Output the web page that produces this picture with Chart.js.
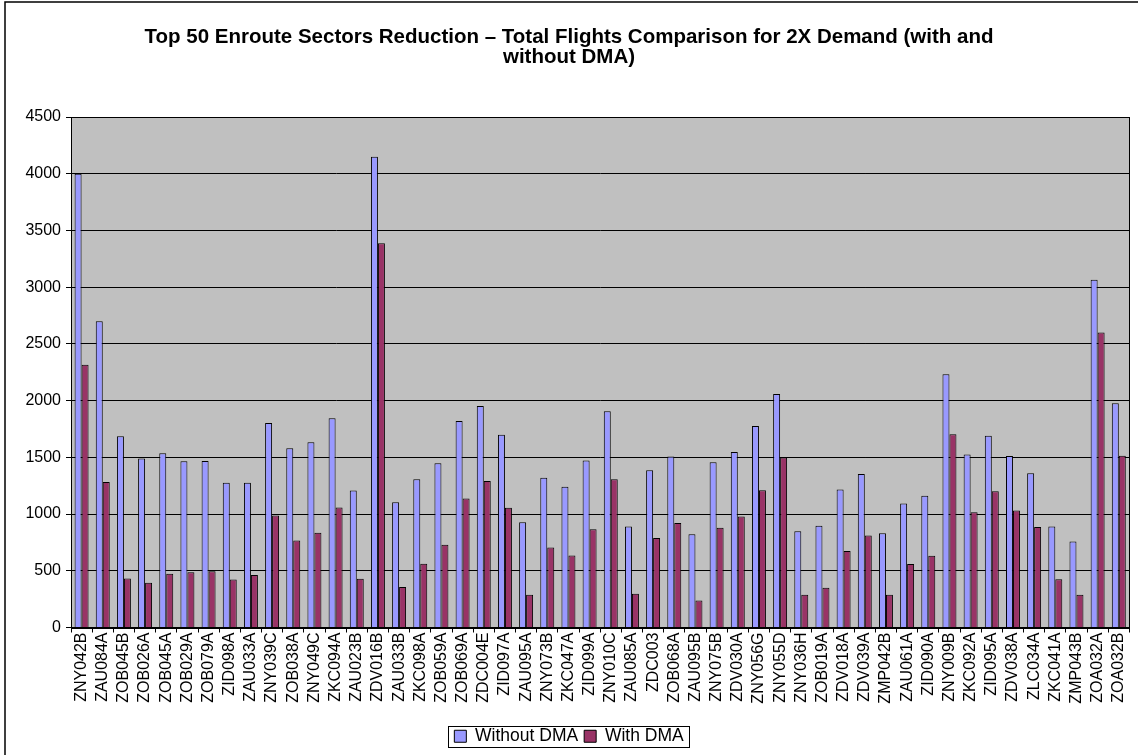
<!DOCTYPE html>
<html>
<head>
<meta charset="utf-8">
<script src="https://cdn.jsdelivr.net/npm/chart.js@4.4.0/dist/chart.umd.min.js"></script>
<style>
  body { margin: 0; background: #fff; }
  #wrap { width: 1138px; height: 755px; position: relative; }
</style>
</head>
<body>
<div id="wrap"><canvas id="chart"></canvas></div>
<script>
const sectors = [
    "ZNY042B", "ZAU084A", "ZOB045B", "ZOB026A", "ZOB045A", "ZOB029A", "ZOB079A", "ZID098A", "ZAU033A", "ZNY039C",
    "ZOB038A", "ZNY049C", "ZKC094A", "ZAU023B", "ZDV016B", "ZAU033B", "ZKC098A", "ZOB059A", "ZOB069A", "ZDC004E",
    "ZID097A", "ZAU095A", "ZNY073B", "ZKC047A", "ZID099A", "ZNY010C", "ZAU085A", "ZDC003", "ZOB068A", "ZAU095B",
    "ZNY075B", "ZDV030A", "ZNY056G", "ZNY055D", "ZNY036H", "ZOB019A", "ZDV018A", "ZDV039A", "ZMP042B", "ZAU061A",
    "ZID090A", "ZNY009B", "ZKC092A", "ZID095A", "ZDV038A", "ZLC034A", "ZKC041A", "ZMP043B", "ZOA032A", "ZOA032B"
];

const withoutDMA = [
    4000, 2700, 1685, 1490, 1535, 1465, 1468, 1277, 1277, 1803,
    1581, 1633, 1845, 1207, 4150, 1104, 1307, 1447, 1821, 1952,
    1700, 927, 1320, 1240, 1471, 1906, 891, 1386, 1508, 821,
    1456, 1548, 1776, 2058, 848, 897, 1216, 1353, 830, 1094,
    1161, 2232, 1526, 1690, 1511, 1359, 891, 757, 3065, 1976
];

const withDMA = [
    2317, 1283, 432, 395, 474, 486, 496, 423, 462, 988,
    766, 836, 1058, 429, 3387, 356, 562, 730, 1137, 1292,
    1055, 289, 705, 635, 866, 1307, 298, 790, 921, 237,
    879, 979, 1210, 1499, 289, 350, 675, 812, 289, 559,
    632, 1703, 1016, 1201, 1031, 885, 426, 289, 2600, 1514
];

const yTicks = { min: 0, max: 4500, step: 500 };

const titleLines = [
    "Top 50 Enroute Sectors Reduction \u2013 Total Flights Comparison for 2X Demand (with and",
    "without DMA)"
];

const font = "'Liberation Sans', Arial, sans-serif";

// grey plot area, plot frame, outer chart frame and legend box
const excelLook = {
    id: "excelLook",
    beforeDraw(chart) {
        const ctx = chart.ctx;
        const a = chart.chartArea;
        ctx.save();
        ctx.fillStyle = "#fff";
        ctx.fillRect(0, 0, chart.width, chart.height);
        ctx.fillStyle = "#C0C0C0";
        ctx.fillRect(a.left, a.top, a.right - a.left, a.bottom - a.top);
        ctx.restore();
    },
    afterDraw(chart) {
        const ctx = chart.ctx;
        const a = chart.chartArea;
        ctx.save();
        ctx.strokeStyle = "#000";
        ctx.lineWidth = 1;
        ctx.strokeRect(Math.round(a.left) + 0.5, Math.round(a.top) + 0.5, Math.round(a.right - a.left), Math.round(a.bottom - a.top));
        ctx.lineWidth = 1.5;
        ctx.strokeRect(5, 2, chart.width + 10, chart.height + 10);

        const boxes = chart.legend.legendHitBoxes;
        if (boxes && boxes.length) {
            let l = Infinity, r = -Infinity, t = Infinity, b = -Infinity;
            boxes.forEach(h => {
                l = Math.min(l, h.left); r = Math.max(r, h.left + h.width);
                t = Math.min(t, h.top); b = Math.max(b, h.top + h.height);
            });
            ctx.lineWidth = 1;
            ctx.strokeRect(Math.round(l) - 5.5, Math.round(t) - 1.5, Math.round(r - l) + 12, Math.round(b - t) + 3);
        }
        ctx.restore();
    }
};

const chart = new Chart(document.getElementById("chart"), {
    type: "bar",
    data: {
        labels: sectors,
        datasets: [
            {
                label: "Without DMA",
                data: withoutDMA,
                backgroundColor: "#9999FF",
                borderColor: "#000",
                borderWidth: 1,
                categoryPercentage: 0.66,
                barPercentage: 1.0
            },
            {
                label: "With DMA",
                data: withDMA,
                backgroundColor: "#993366",
                borderColor: "#000",
                borderWidth: 1,
                categoryPercentage: 0.66,
                barPercentage: 1.0
            }
        ]
    },
    options: {
        responsive: true,
        maintainAspectRatio: false,
        animation: false,
        layout: { padding: { left: 0, right: 0, top: 0, bottom: 0 } },
        plugins: {
            title: {
                display: true,
                text: titleLines,
                color: "#000",
                font: { family: font, size: 20.5, weight: "bold", lineHeight: 1.0 },
                padding: { top: 27, bottom: 49 }
            },
            legend: {
                position: "bottom",
                labels: {
                    color: "#000",
                    font: { family: font, size: 17.5 },
                    boxWidth: 12,
                    boxHeight: 12,
                    padding: 6,
                    useBorderRadius: false
                }
            },
            tooltip: { enabled: false }
        },
        scales: {
            x: {
                grid: {
                    offset: true,
                    drawOnChartArea: false,
                    drawTicks: true,
                    tickLength: 5,
                    color: "#000"
                },
                border: { display: true, color: "#000", width: 1 },
                ticks: {
                    autoSkip: false,
                    minRotation: 90,
                    maxRotation: 90,
                    color: "#000",
                    padding: 0,
                    font: { family: font, size: 16 }
                },
                afterFit(scale) {
                    scale.height = 94;
                }
            },
            y: {
                min: yTicks.min,
                max: yTicks.max,
                grid: {
                    color: "#000",
                    lineWidth: 1,
                    drawTicks: true,
                    tickLength: 5
                },
                border: { display: true, color: "#000", width: 1 },
                ticks: {
                    stepSize: yTicks.step,
                    color: "#000",
                    padding: 5,
                    font: { family: font, size: 16 },
                    callback: v => String(v)
                },
                afterFit(scale) {
                    scale.width = 71;
                }
            }
        }
    },
    plugins: [excelLook]
});
</script>
</body>
</html>
